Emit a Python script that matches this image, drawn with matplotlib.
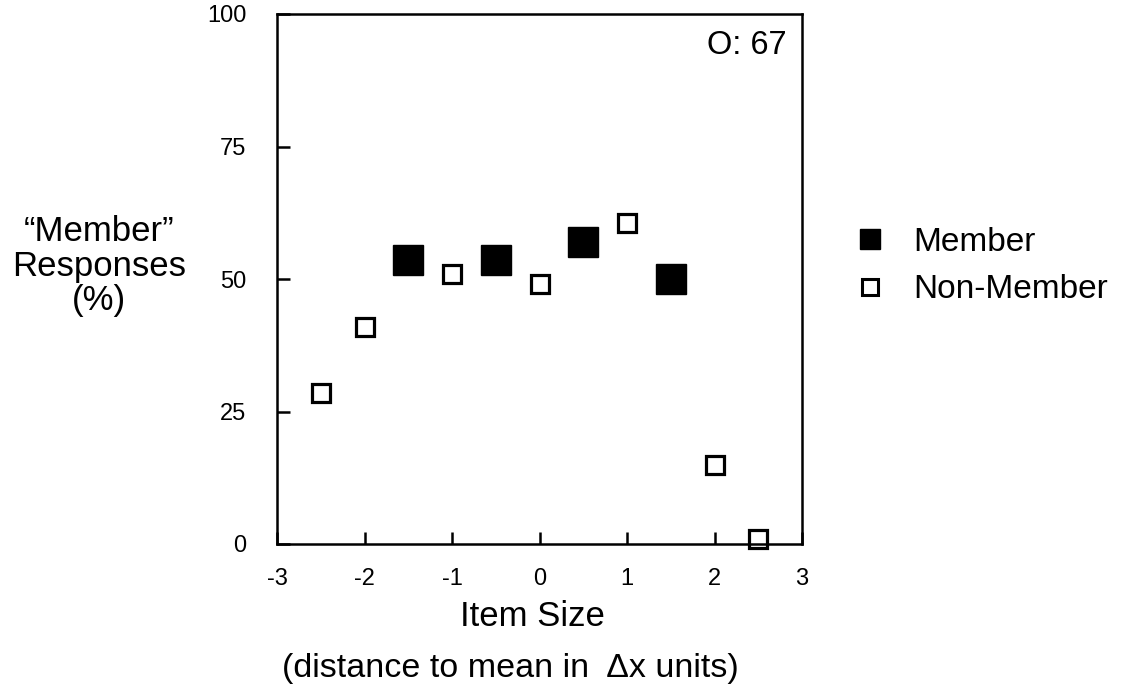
import matplotlib
matplotlib.use("Agg")
import matplotlib.pyplot as plt
from matplotlib.lines import Line2D

plt.rcParams['font.family'] = ['Liberation Sans', 'DejaVu Sans']

member_x = [-1.5, -0.5, 0.5, 1.5]
member_y = [53.5, 53.5, 57, 50]
nonmember_x = [-2.5, -2, -1, 0, 1, 2, 2.5]
nonmember_y = [28.5, 41, 51, 49, 60.5, 15, 1]
xticks = [-3, -2, -1, 0, 1, 2, 3]
yticks = [0, 25, 50, 75, 100]

W, H = 1135, 692
fig = plt.figure(figsize=(W / 100, H / 100), dpi=100)
ax = fig.add_axes([277 / W, 1 - 544 / H, (802 - 277) / W, (544 - 14) / H])

ax.plot(member_x, member_y, linestyle='none', marker='s', markersize=22,
        markerfacecolor='black', markeredgecolor='black', markeredgewidth=1)
ax.plot(nonmember_x, nonmember_y, linestyle='none', marker='s', markersize=12.5,
        markerfacecolor='white', markeredgecolor='black', markeredgewidth=2.3,
        clip_on=False)

ax.set_xlim(-3, 3)
ax.set_ylim(0, 100)
ax.set_xticks(xticks)
ax.set_yticks(yticks)
ax.set_xticklabels([str(v) for v in xticks])
ax.set_yticklabels([str(v) for v in yticks])
ax.tick_params(axis='x', direction='in', length=9, width=1.8, pad=17, labelsize=17)
ax.tick_params(axis='y', direction='in', length=9, width=1.8, pad=22, labelsize=17)
for s in ax.spines.values():
    s.set_linewidth(1.8)

fig.text(787 / W, 1 - 46 / H, "O: 67", ha='right', va='center', fontsize=23.5)

fig.text(532 / W, 1 - 617 / H, "Item Size", ha='center', va='center', fontsize=25)
fig.text(510 / W, 1 - 668 / H, "(distance to mean in  \u0394x units)", ha='center',
         va='center', fontsize=24.5)

fig.text(99 / W, 1 - 266 / H, "\u201cMember\u201d\nResponses\n(%)", ha='center',
         va='center', fontsize=25, linespacing=1.05, multialignment='center')

handles = [
    Line2D([], [], linestyle='none', marker='s', markersize=14,
           markerfacecolor='black', markeredgecolor='black'),
    Line2D([], [], linestyle='none', marker='s', markersize=12,
           markerfacecolor='white', markeredgecolor='black', markeredgewidth=2.2),
]
fig.legend(handles, ["Member", "Non-Member"], loc='center left',
           bbox_to_anchor=(853 / W, 1 - 266 / H), frameon=False, fontsize=24,
           handletextpad=0.8, labelspacing=0.5, handlelength=1.0,
           borderaxespad=0, borderpad=0)

fig.savefig("out.png", dpi=100)
